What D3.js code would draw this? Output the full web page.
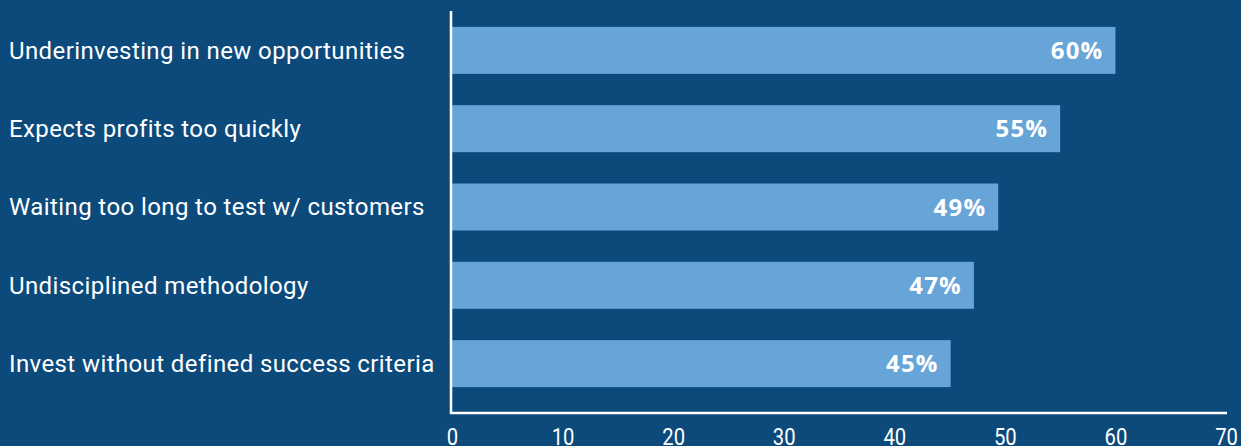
<!DOCTYPE html>
<html><head><meta charset="utf-8">
<script src="https://cdn.jsdelivr.net/npm/d3@7"></script>
<style>
html,body{margin:0;padding:0;background:#0c4a7c;}
svg{display:block;}
</style></head>
<body>
<svg id="chart" width="1241" height="446"></svg>
<script>
const categories = [
  "Underinvesting in new opportunities",
  "Expects profits too quickly",
  "Waiting too long to test w/ customers",
  "Undisciplined methodology",
  "Invest without defined success criteria"
];
const values = [60, 55, 49.4, 47.2, 45.1];
const valueLabels = ["60%", "55%", "49%", "47%", "45%"];
const xTicks = [0, 10, 20, 30, 40, 50, 60, 70];

const svg = d3.select("#chart");
const W = 1241, H = 446;
svg.append("rect").attr("width", W).attr("height", H).attr("fill", "#0c4a7c");

const x = d3.scaleLinear().domain([0, 70]).range([452, 1226]);
const y = d3.scaleBand().domain(categories).range([12, 402]).paddingInner(0.4).paddingOuter(0.19);

// bars
svg.selectAll("rect.bar").data(categories).join("rect")
  .attr("class", "bar")
  .attr("x", x(0))
  .attr("y", d => y(d))
  .attr("width", (d, i) => x(values[i]) - x(0))
  .attr("height", y.bandwidth())
  .attr("fill", "#67a4d8");

// value labels
svg.selectAll("text.val").data(categories).join("text")
  .attr("class", "val")
  .attr("x", (d, i) => x(values[i]) - 12)
  .attr("y", d => y(d) + y.bandwidth() / 2)
  .attr("dy", "0.36em")
  .attr("text-anchor", "end")
  .attr("fill", "#ffffff")
  .attr("font-family", "'Open Sans', sans-serif")
  .attr("font-weight", "bold")
  .attr("font-size", 24)
  .attr("letter-spacing", 1.2)
  .text((d, i) => valueLabels[i]);

// category labels
svg.selectAll("text.cat").data(categories).join("text")
  .attr("class", "cat")
  .attr("x", 9)
  .attr("y", d => y(d) + y.bandwidth() / 2)
  .attr("dy", "0.35em")
  .attr("fill", "#ffffff")
  .attr("font-family", "Roboto, sans-serif")
  .attr("font-size", 24)
  .attr("letter-spacing", 0.4)
  .text(d => d);

// axes lines
svg.append("line").attr("x1", 451).attr("x2", 451).attr("y1", 11).attr("y2", 414)
  .attr("stroke", "#ffffff").attr("stroke-width", 2.5);
svg.append("line").attr("x1", 450).attr("x2", 1227).attr("y1", 413).attr("y2", 413)
  .attr("stroke", "#ffffff").attr("stroke-width", 2.5);

// x tick labels
const xAxis = d3.axisBottom(x).tickValues(xTicks).tickSize(0).tickPadding(0).tickFormat(d3.format("d"));
const gx = svg.append("g").attr("transform", "translate(0,445)").call(xAxis);
gx.select(".domain").remove();
gx.selectAll("text")
  .attr("fill", "#ffffff")
  .attr("font-family", "Roboto, sans-serif")
  .attr("font-size", 23)
  .attr("dy", "0")
  .attr("transform", "scale(0.88,1)");
</script>
</body></html>
